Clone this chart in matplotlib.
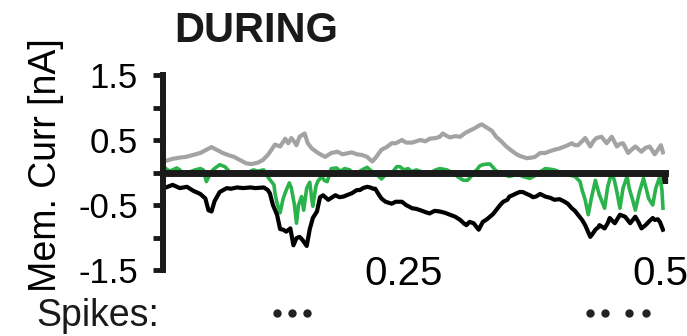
import matplotlib
matplotlib.use("Agg")
import matplotlib.pyplot as plt

plt.rcParams['font.family'] = ['Liberation Sans', 'DejaVu Sans']
plt.rcParams['axes.unicode_minus'] = False

# ---- data -------------------------------------------------------------
# grey: excitatory-like trace (nA)
gray_t = [.0175, .024, .031, .037, .044, .051, .057, .062, .067, .073, .078, .084,
          .090, .096, .101, .107, .112, .117, .121, .124, .129, .134, .137, .140,
          .143, .145, .148, .153, .156, .160, .166, .173, .179, .185, .190, .199,
          .204, .209, .214, .219, .222, .228, .233, .238, .242, .248, .252, .258,
          .262, .266, .271, .275, .281, .285, .288, .292, .295, .300, .305, .310,
          .315, .319, .323, .326, .329, .332, .336, .340, .345, .350, .354, .360,
          .364, .370, .375, .378, .383, .388, .393, .397, .402, .407, .410, .414,
          .417, .420, .424, .427, .432, .435, .438, .443, .448, .453, .458, .461,
          .464, .469, .473, .476, .479, .482, .486, .490, .495, .498, .501, .503]
gray_v = [.18, .21, .23, .24, .27, .30, .35, .39, .35, .30, .27, .24,
          .19, .14, .13, .15, .19, .27, .36, .43, .40, .52, .45, .53,
          .47, .42, .55, .60, .45, .37, .30, .24, .30, .32, .28, .31,
          .28, .27, .24, .17, .22, .35, .39, .45, .45, .50, .46, .46,
          .48, .50, .48, .52, .53, .55, .60, .56, .54, .56, .55, .61,
          .65, .68, .72, .74, .71, .68, .64, .55, .48, .40, .35, .28,
          .25, .22, .23, .24, .30, .30, .33, .35, .37, .40, .42, .45,
          .42, .42, .48, .53, .40, .48, .53, .55, .45, .55, .40, .44,
          .45, .30, .36, .40, .36, .32, .38, .40, .28, .35, .42, .31]

# black: total membrane current (nA)
black_t = [.0175, .024, .031, .038, .044, .051, .056, .059, .062, .065, .070, .077,
           .081, .087, .093, .100, .105, .113, .117, .119, .122, .126, .129, .132,
           .135, .139, .142, .145, .148, .151, .155, .158, .161, .165, .168, .171,
           .176, .180, .183, .187, .191, .194, .199, .204, .207, .210, .214, .217,
           .220, .222, .225, .228, .232, .238, .242, .248, .252, .258, .262, .266,
           .271, .275, .280, .285, .290, .295, .300, .305, .309, .311, .314, .318,
           .320, .323, .325, .327, .331, .334, .337, .340, .344, .347, .351, .353,
           .356, .360, .363, .366, .370, .373, .376, .379, .383, .388, .393, .397,
           .402, .407, .410, .414, .417, .420, .424, .427, .430, .432, .434, .437,
           .440, .441, .444, .446, .449, .451, .454, .456, .459, .461, .466, .471,
           .476, .479, .482, .486, .489, .493, .495, .498, .500, .503]
black_v = [-.23, -.19, -.24, -.22, -.28, -.33, -.40, -.58, -.60, -.44, -.30, -.24,
           -.25, -.23, -.24, -.23, -.24, -.23, -.27, -.32, -.50, -.65, -.87, -.88,
           -.91, -.86, -1.12, -1.01, -.99, -1.04, -1.13, -.87, -.70, -.60, -.38, -.35,
           -.42, -.38, -.35, -.38, -.37, -.35, -.32, -.27, -.27, -.24, -.22, -.23,
           -.25, -.25, -.33, -.40, -.45, -.48, -.45, -.45, -.50, -.55, -.56, -.58,
           -.61, -.63, -.59, -.60, -.62, -.65, -.68, -.73, -.79, -.81, -.76, -.78,
           -.82, -.88, -.82, -.76, -.72, -.68, -.64, -.58, -.50, -.45, -.42, -.37,
           -.35, -.32, -.30, -.30, -.33, -.35, -.38, -.37, -.33, -.37, -.39, -.42,
           -.41, -.45, -.48, -.55, -.59, -.65, -.73, -.81, -.92, -.99, -.95, -.88,
           -.84, -.81, -.84, -.86, -.78, -.70, -.75, -.78, -.70, -.65, -.68, -.78,
           -.68, -.76, -.86, -.81, -.76, -.70, -.73, -.72, -.76, -.88]

# green: synaptic current component (nA)
green_t = [.0175, .021, .024, .028, .031, .034, .038, .041, .046, .051, .054, .057,
           .061, .064, .070, .075, .078, .080, .087, .091, .096, .103, .107, .113,
           .118, .121, .123, .124, .126, .129, .132, .135, .138, .140, .143, .145,
           .147, .150, .152, .155, .158, .160, .161, .164, .166, .170, .172, .175,
           .177, .179, .184, .188, .192, .197, .200, .204, .209, .214, .219, .223,
           .228, .231, .238, .243, .246, .250, .254, .258, .262, .269, .275, .281,
           .285, .292, .298, .303, .308, .312, .314, .318, .321, .324, .327, .331,
           .334, .337, .339, .344, .349, .353, .358, .363, .368, .373, .379, .384,
           .388, .393, .397, .402, .407, .412, .417, .422, .424, .427, .430, .433,
           .437, .439, .441, .444, .446, .449, .453, .456, .458, .461, .464, .468,
           .470, .473, .476, .480, .484, .487, .489, .493, .496, .500, .502, .503]
green_v = [.06, .02, .04, .07, .04, -.01, .01, .01, .04, .06, .04, -.14,
           -.01, .05, .12, .09, .04, -.01, .01, -.02, -.01, .04, .02, .04,
           -.09, -.15, -.19, -.32, -.47, -.62, -.40, -.27, -.16, -.24, -.50, -.78,
           -.50, -.37, -.58, -.24, -.15, -.42, -.52, -.21, -.13, -.06, -.12, -.14,
           -.04, .06, .07, .02, .06, .04, -.01, -.01, .04, .08, .01, -.02,
           -.10, -.05, -.01, .09, .09, .04, .06, .01, .04, .00, -.01, .04,
           .06, .04, -.01, -.07, -.12, -.12, -.09, -.01, .04, .10, .12, .13,
           .13, .08, .04, -.01, -.04, -.06, -.04, -.04, -.07, -.09, -.04, .02,
           .06, .05, .04, .01, -.01, -.04, -.06, -.14, -.27, -.42, -.65, -.40,
           -.12, -.24, -.35, -.47, -.55, -.22, .01, -.15, -.30, -.55, -.24, -.06,
           -.24, -.40, -.58, -.30, -.09, -.27, -.40, -.50, -.24, -.06, -.27, -.55]

# spike times (s)
spike_times = [.126, .141, .155, .432, .446, .470, .486]

y_ticks = [-1.5, -1.0, -0.5, 0.0, 0.5, 1.0, 1.5]
y_tick_labels = ['-1.5', '', '-0.5', '', '0.5', '', '1.5']
x_ticks = [0.25, 0.5]
x_tick_labels = ['0.25', '0.5']
x_range = (0.0146, 0.505)
y_range = (-1.5, 1.5)

# ---- figure -----------------------------------------------------------
fig = plt.figure(figsize=(6.87, 3.36), dpi=100)
ax = fig.add_axes([163 / 687, 66 / 336, 502 / 687, 195 / 336])

ax.plot(gray_t, gray_v, color='#a3a3a3', lw=3.0, solid_joinstyle='round', zorder=2)
ax.plot(green_t, green_v, color='#2bb34b', lw=2.6, solid_joinstyle='round', zorder=2.1)
ax.plot(black_t, black_v, color='black', lw=3.0, solid_joinstyle='round', zorder=2.2)

ax.set_xlim(*x_range)
ax.set_ylim(*y_range)

for side in ('top', 'right'):
    ax.spines[side].set_visible(False)
ax.spines['left'].set_linewidth(4.3)
ax.spines['left'].set_color('#1a1a1a')
ax.spines['left'].set_capstyle('projecting')
ax.spines['bottom'].set_position(('data', 0))
ax.spines['bottom'].set_linewidth(5)
ax.spines['bottom'].set_color('#1a1a1a')
ax.spines['bottom'].set_zorder(3)

ax.set_yticks(y_ticks)
ax.set_yticklabels(y_tick_labels)
ax.tick_params(axis='y', direction='out', length=7, width=3.5, color='#1a1a1a',
               pad=11, labelsize=25)

# small hook at the right end of the zero line
ax.set_xticks([x_range[1]])
ax.set_xticklabels([''])
ax.tick_params(axis='x', direction='out', length=8, width=4.5, color='#1a1a1a')

# time labels sit at the bottom of the panel
sec = ax.secondary_xaxis('bottom')
sec.spines['bottom'].set_visible(False)
sec.set_xticks(x_ticks)
sec.set_xticklabels(x_tick_labels)
sec.tick_params(axis='x', length=0, pad=-11, labelsize=29)

ax.set_ylabel('Mem. Curr [nA]', fontsize=27)
ax.yaxis.set_label_coords(-0.198, 0.54)

fig.text(174 / 687, 1 - 42 / 336, 'DURING', fontsize=30, fontweight='bold',
         va='baseline', ha='left', color='#1a1a1a')
fig.text(36 / 687, 1 - 326 / 336, 'Spikes:', fontsize=27, va='baseline', ha='left',
         color='#1a1a1a')

ax.plot(spike_times, [-2.16] * len(spike_times), 'o', color='#222222', ms=6,
        mec='none', clip_on=False)

fig.savefig('out.png', dpi=100)
